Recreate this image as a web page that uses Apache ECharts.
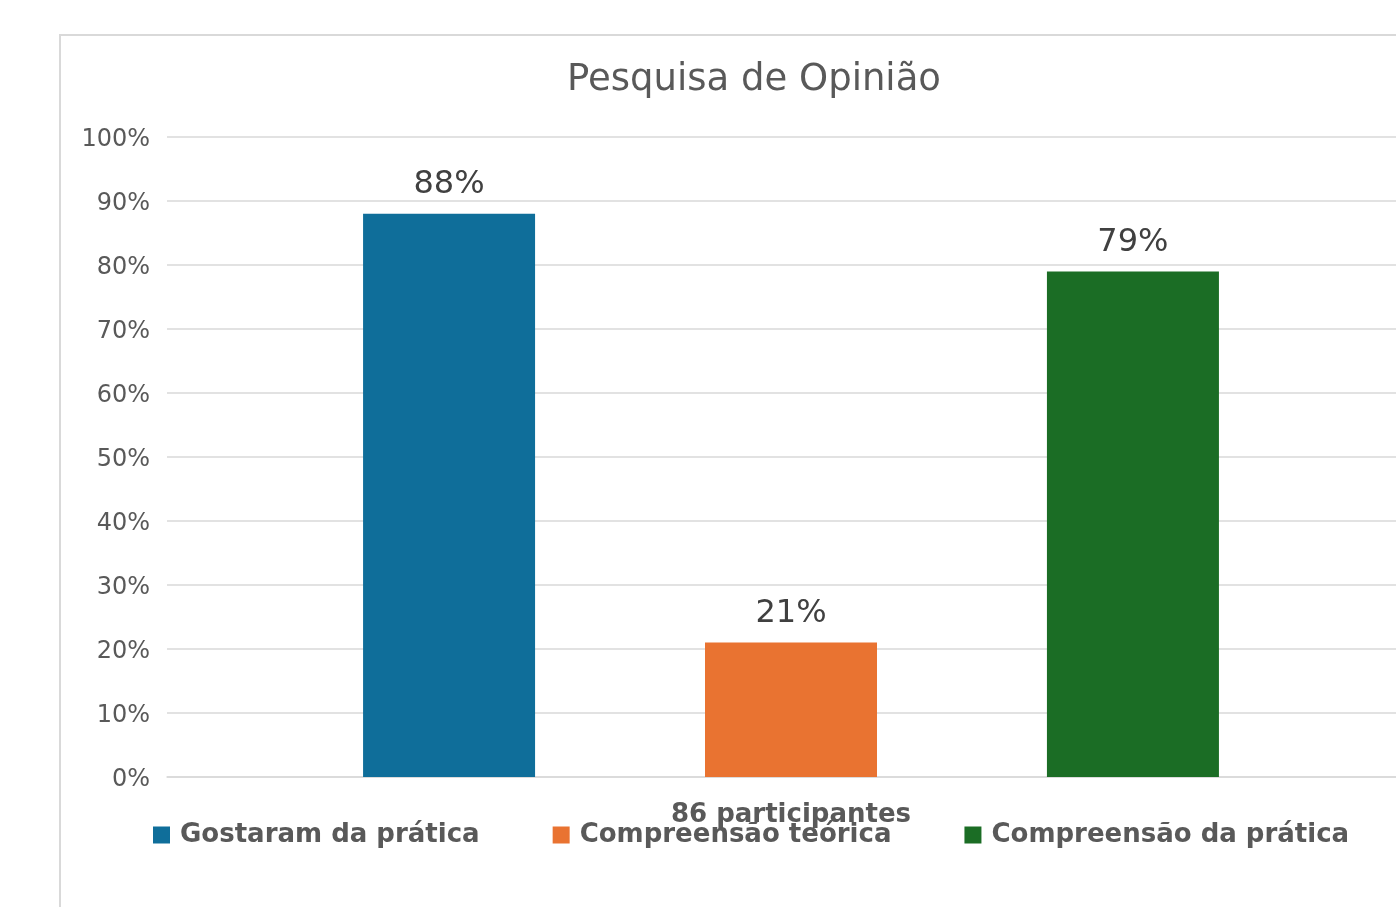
<!DOCTYPE html>
<html>
<head>
<meta charset="utf-8">
<script src="https://cdn.jsdelivr.net/npm/echarts@6/dist/echarts.min.js"></script>
<style>
  html, body { margin: 0; padding: 0; overflow: hidden; background: #fff; width: 1396px; height: 907px; }
  #frame { position: absolute; left: 59px; top: 34px; width: 2000px; height: 2000px; border: 2px solid #d9d9d9; box-sizing: border-box; }
  #chart { position: absolute; left: 0; top: 0; width: 1450px; height: 907px; }
</style>
</head>
<body>
<div id="frame"></div>
<div id="chart"></div>
<script>
const titleText = 'Pesquisa de Opinião';
const categories = ['86 participantes'];
const seriesNames = ['Gostaram da prática', 'Compreensão teórica', 'Compreensão da prática'];
const gostaram = [88];
const teorica = [21];
const pratica = [79];
const seriesColors = ['#0F6E9A', '#E97331', '#1B6D25'];
const yTicks = [0, 10, 20, 30, 40, 50, 60, 70, 80, 90, 100];

const values = [gostaram, teorica, pratica];
const FONT = '"DejaVu Sans", Verdana, sans-serif';

const chart = echarts.init(document.getElementById('chart'), null, { renderer: 'canvas' });
chart.setOption({
  animation: false,
  backgroundColor: 'transparent',
  title: {
    text: titleText,
    left: 749,
    top: 57,
    textAlign: 'center',
    textStyle: { fontFamily: FONT, fontSize: 37, fontWeight: 'normal', color: '#595959' }
  },
  legend: {
    left: 148,
    top: 817,
    itemWidth: 17,
    itemHeight: 17,
    itemGap: 73,
    icon: 'rect',
    data: seriesNames,
    textStyle: { fontFamily: FONT, fontSize: 26, fontWeight: 'bold', color: '#595959', padding: [0, 0, 0, 5] }
  },
  grid: { left: 167, right: 35, top: 137, bottom: 130, containLabel: false },
  xAxis: {
    type: 'category',
    data: categories,
    axisLine: { show: true, lineStyle: { color: '#d9d9d9', width: 1.5 } },
    axisTick: { show: false },
    axisLabel: { fontFamily: FONT, fontSize: 26, fontWeight: 'bold', color: '#595959', margin: 25 }
  },
  yAxis: {
    type: 'value',
    min: 0,
    max: 100,
    interval: 10,
    axisLine: { show: false },
    axisTick: { show: false },
    splitLine: { lineStyle: { color: '#d9d9d9', width: 1.5 } },
    axisLabel: {
      margin: 17,
      formatter: v => (yTicks.indexOf(v) >= 0 ? '{v|' + v + '%}' : ''),
      rich: {
        v: { fontFamily: FONT, fontSize: 24, color: '#595959', padding: [6, 0, 0, 0] }
      }
    }
  },
  series: seriesNames.map((name, i) => ({
    name: name,
    type: 'bar',
    data: values[i],
    barWidth: 172,
    barGap: '98.8%',
    itemStyle: { color: seriesColors[i] },
    label: {
      show: true,
      position: 'top',
      distance: 13,
      formatter: p => p.value + '%',
      fontFamily: FONT, fontSize: 32, color: '#404040'
    }
  }))
});
</script>
</body>
</html>
